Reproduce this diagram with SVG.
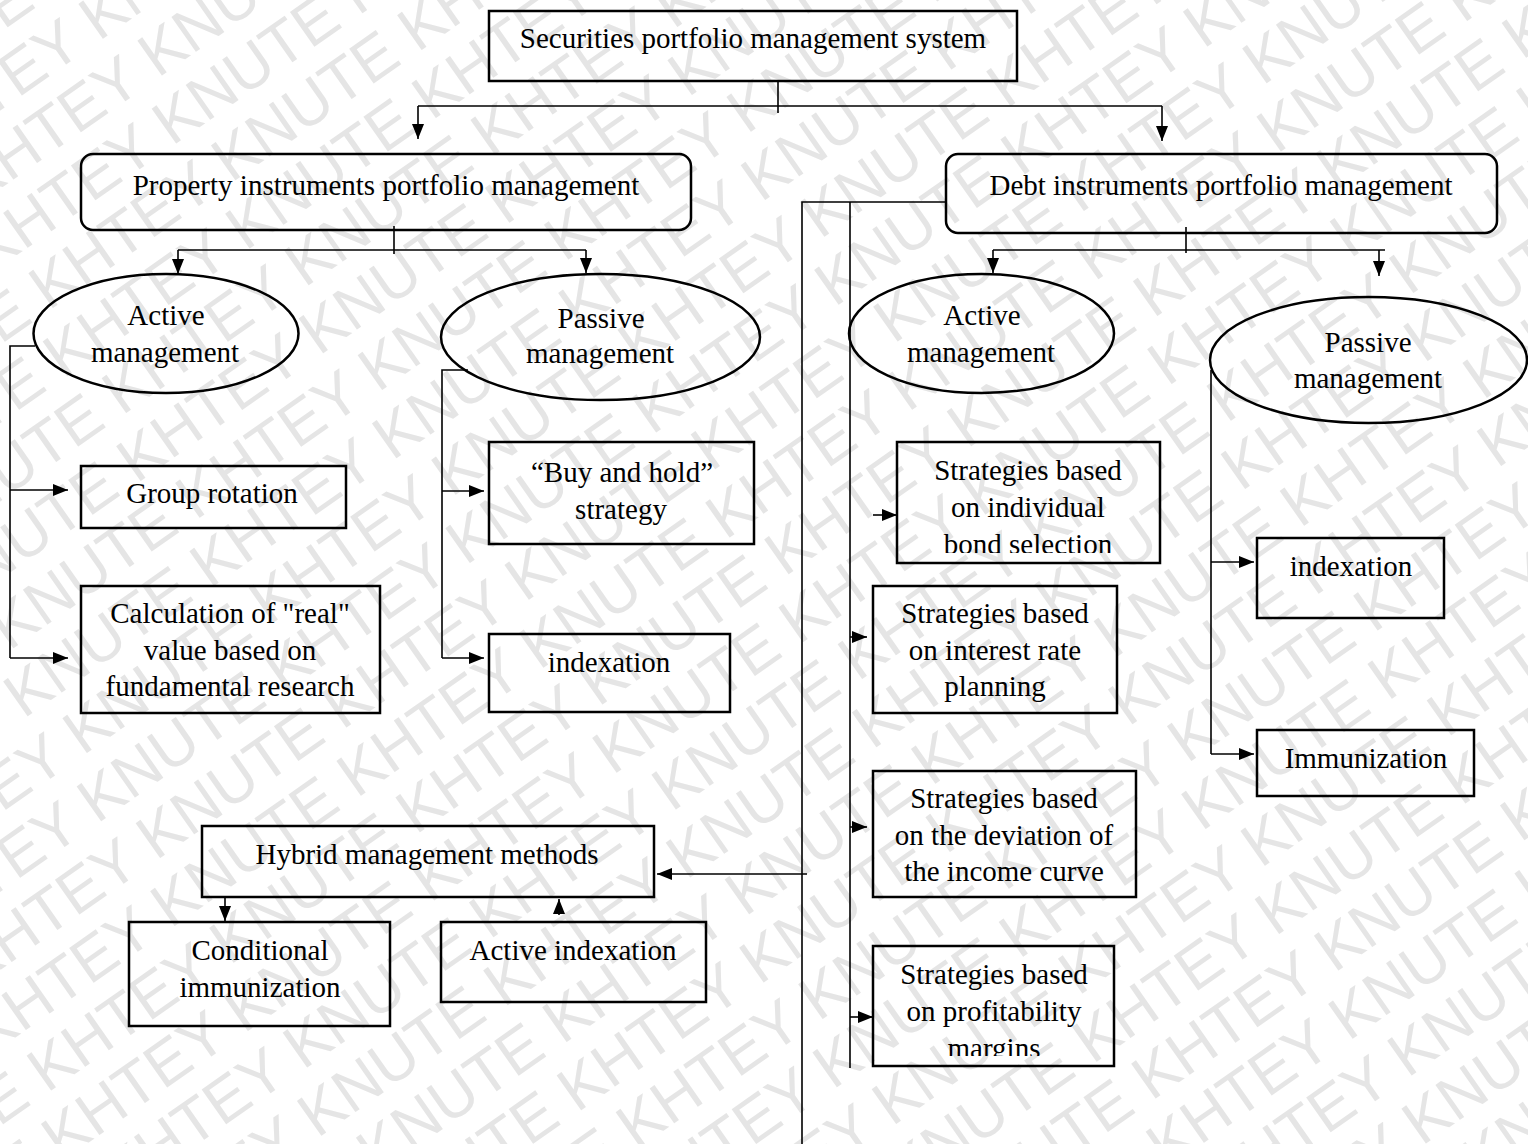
<svg xmlns="http://www.w3.org/2000/svg" width="1528" height="1144" viewBox="0 0 1528 1144">
<style>
.box{fill:none;stroke:#000;stroke-width:2.5}
.t{font-family:"Liberation Serif","Times New Roman",serif;font-size:29px;fill:#000;text-anchor:middle}
.c{fill:none;stroke:#000;stroke-width:1.6}
.wm{font-family:"Liberation Sans",Arial,sans-serif;font-size:62px;fill:#e5e5e5}
</style>
<defs>
<marker id="ah" markerUnits="userSpaceOnUse" markerWidth="15" markerHeight="12" refX="15" refY="6" orient="auto">
<path d="M0,0 L15,6 L0,12 z" fill="#000"/>
</marker>
<clipPath id="clip1"><rect x="897" y="442" width="263" height="111"/></clipPath>
<clipPath id="clip4"><rect x="873" y="946" width="241" height="110"/></clipPath>
</defs>
<rect width="1528" height="1144" fill="#fff"/>
<g id="watermark" transform="rotate(-35 764 572)">
<text class="wm" x="-600" y="-500">KHTEY KNUTE KHTEY KNUTE KHTEY KNUTE KHTEY KNUTE KHTEY KNUTE KHTEY KNUTE</text>
<text class="wm" x="-800" y="-436">KNUTE KHTEY KNUTE KHTEY KNUTE KHTEY KNUTE KHTEY KNUTE KHTEY KNUTE KHTEY</text>
<text class="wm" x="-600" y="-372">KHTEY KNUTE KHTEY KNUTE KHTEY KNUTE KHTEY KNUTE KHTEY KNUTE KHTEY KNUTE</text>
<text class="wm" x="-800" y="-308">KNUTE KHTEY KNUTE KHTEY KNUTE KHTEY KNUTE KHTEY KNUTE KHTEY KNUTE KHTEY</text>
<text class="wm" x="-600" y="-244">KHTEY KNUTE KHTEY KNUTE KHTEY KNUTE KHTEY KNUTE KHTEY KNUTE KHTEY KNUTE</text>
<text class="wm" x="-800" y="-180">KNUTE KHTEY KNUTE KHTEY KNUTE KHTEY KNUTE KHTEY KNUTE KHTEY KNUTE KHTEY</text>
<text class="wm" x="-600" y="-116">KHTEY KNUTE KHTEY KNUTE KHTEY KNUTE KHTEY KNUTE KHTEY KNUTE KHTEY KNUTE</text>
<text class="wm" x="-800" y="-52">KNUTE KHTEY KNUTE KHTEY KNUTE KHTEY KNUTE KHTEY KNUTE KHTEY KNUTE KHTEY</text>
<text class="wm" x="-600" y="12">KHTEY KNUTE KHTEY KNUTE KHTEY KNUTE KHTEY KNUTE KHTEY KNUTE KHTEY KNUTE</text>
<text class="wm" x="-800" y="76">KNUTE KHTEY KNUTE KHTEY KNUTE KHTEY KNUTE KHTEY KNUTE KHTEY KNUTE KHTEY</text>
<text class="wm" x="-600" y="140">KHTEY KNUTE KHTEY KNUTE KHTEY KNUTE KHTEY KNUTE KHTEY KNUTE KHTEY KNUTE</text>
<text class="wm" x="-800" y="204">KNUTE KHTEY KNUTE KHTEY KNUTE KHTEY KNUTE KHTEY KNUTE KHTEY KNUTE KHTEY</text>
<text class="wm" x="-600" y="268">KHTEY KNUTE KHTEY KNUTE KHTEY KNUTE KHTEY KNUTE KHTEY KNUTE KHTEY KNUTE</text>
<text class="wm" x="-800" y="332">KNUTE KHTEY KNUTE KHTEY KNUTE KHTEY KNUTE KHTEY KNUTE KHTEY KNUTE KHTEY</text>
<text class="wm" x="-600" y="396">KHTEY KNUTE KHTEY KNUTE KHTEY KNUTE KHTEY KNUTE KHTEY KNUTE KHTEY KNUTE</text>
<text class="wm" x="-800" y="460">KNUTE KHTEY KNUTE KHTEY KNUTE KHTEY KNUTE KHTEY KNUTE KHTEY KNUTE KHTEY</text>
<text class="wm" x="-600" y="524">KHTEY KNUTE KHTEY KNUTE KHTEY KNUTE KHTEY KNUTE KHTEY KNUTE KHTEY KNUTE</text>
<text class="wm" x="-800" y="588">KNUTE KHTEY KNUTE KHTEY KNUTE KHTEY KNUTE KHTEY KNUTE KHTEY KNUTE KHTEY</text>
<text class="wm" x="-600" y="652">KHTEY KNUTE KHTEY KNUTE KHTEY KNUTE KHTEY KNUTE KHTEY KNUTE KHTEY KNUTE</text>
<text class="wm" x="-800" y="716">KNUTE KHTEY KNUTE KHTEY KNUTE KHTEY KNUTE KHTEY KNUTE KHTEY KNUTE KHTEY</text>
<text class="wm" x="-600" y="780">KHTEY KNUTE KHTEY KNUTE KHTEY KNUTE KHTEY KNUTE KHTEY KNUTE KHTEY KNUTE</text>
<text class="wm" x="-800" y="844">KNUTE KHTEY KNUTE KHTEY KNUTE KHTEY KNUTE KHTEY KNUTE KHTEY KNUTE KHTEY</text>
<text class="wm" x="-600" y="908">KHTEY KNUTE KHTEY KNUTE KHTEY KNUTE KHTEY KNUTE KHTEY KNUTE KHTEY KNUTE</text>
<text class="wm" x="-800" y="972">KNUTE KHTEY KNUTE KHTEY KNUTE KHTEY KNUTE KHTEY KNUTE KHTEY KNUTE KHTEY</text>
<text class="wm" x="-600" y="1036">KHTEY KNUTE KHTEY KNUTE KHTEY KNUTE KHTEY KNUTE KHTEY KNUTE KHTEY KNUTE</text>
<text class="wm" x="-800" y="1100">KNUTE KHTEY KNUTE KHTEY KNUTE KHTEY KNUTE KHTEY KNUTE KHTEY KNUTE KHTEY</text>
<text class="wm" x="-600" y="1164">KHTEY KNUTE KHTEY KNUTE KHTEY KNUTE KHTEY KNUTE KHTEY KNUTE KHTEY KNUTE</text>
<text class="wm" x="-800" y="1228">KNUTE KHTEY KNUTE KHTEY KNUTE KHTEY KNUTE KHTEY KNUTE KHTEY KNUTE KHTEY</text>
<text class="wm" x="-600" y="1292">KHTEY KNUTE KHTEY KNUTE KHTEY KNUTE KHTEY KNUTE KHTEY KNUTE KHTEY KNUTE</text>
<text class="wm" x="-800" y="1356">KNUTE KHTEY KNUTE KHTEY KNUTE KHTEY KNUTE KHTEY KNUTE KHTEY KNUTE KHTEY</text>
<text class="wm" x="-600" y="1420">KHTEY KNUTE KHTEY KNUTE KHTEY KNUTE KHTEY KNUTE KHTEY KNUTE KHTEY KNUTE</text>
<text class="wm" x="-800" y="1484">KNUTE KHTEY KNUTE KHTEY KNUTE KHTEY KNUTE KHTEY KNUTE KHTEY KNUTE KHTEY</text>
<text class="wm" x="-600" y="1548">KHTEY KNUTE KHTEY KNUTE KHTEY KNUTE KHTEY KNUTE KHTEY KNUTE KHTEY KNUTE</text>
<text class="wm" x="-800" y="1612">KNUTE KHTEY KNUTE KHTEY KNUTE KHTEY KNUTE KHTEY KNUTE KHTEY KNUTE KHTEY</text>
</g>

<g id="connectors">
<line class="c" x1="778" y1="81" x2="778" y2="113"/>
<line class="c" x1="418" y1="106" x2="1162" y2="106"/>
<line class="c" x1="418" y1="106" x2="418" y2="139" marker-end="url(#ah)"/>
<line class="c" x1="1162" y1="106" x2="1162" y2="141" marker-end="url(#ah)"/>
<line class="c" x1="394" y1="226" x2="394" y2="254"/>
<line class="c" x1="178" y1="250" x2="586" y2="250"/>
<line class="c" x1="178" y1="250" x2="178" y2="274" marker-end="url(#ah)"/>
<line class="c" x1="586" y1="250" x2="586" y2="273" marker-end="url(#ah)"/>
<line class="c" x1="1186" y1="227" x2="1186" y2="253"/>
<line class="c" x1="993" y1="250" x2="1385" y2="250"/>
<line class="c" x1="993" y1="250" x2="993" y2="273" marker-end="url(#ah)"/>
<line class="c" x1="1379" y1="250" x2="1379" y2="276" marker-end="url(#ah)"/>
<polyline class="c" points="35,346 10,346 10,658"/>
<line class="c" x1="10" y1="490" x2="68" y2="490" marker-end="url(#ah)"/>
<line class="c" x1="10" y1="658" x2="68" y2="658" marker-end="url(#ah)"/>
<polyline class="c" points="468,370 442,370 442,658"/>
<line class="c" x1="442" y1="491" x2="484" y2="491" marker-end="url(#ah)"/>
<line class="c" x1="442" y1="658" x2="484" y2="658" marker-end="url(#ah)"/>
<polyline class="c" points="946,202 802,202 802,1144"/>
<line class="c" x1="850" y1="202" x2="850" y2="1068"/>
<line class="c" x1="873" y1="515" x2="897" y2="515" marker-end="url(#ah)"/>
<line class="c" x1="850" y1="637" x2="867" y2="637" marker-end="url(#ah)"/>
<line class="c" x1="850" y1="827" x2="867" y2="827" marker-end="url(#ah)"/>
<line class="c" x1="850" y1="1017" x2="873" y2="1017" marker-end="url(#ah)"/>
<line class="c" x1="807" y1="874" x2="657" y2="874" marker-end="url(#ah)"/>
<line class="c" x1="225" y1="898" x2="225" y2="921" marker-end="url(#ah)"/>
<line class="c" x1="559" y1="915" x2="559" y2="899" marker-end="url(#ah)"/>
<line class="c" x1="1211" y1="370" x2="1211" y2="754"/>
<line class="c" x1="1211" y1="562" x2="1254" y2="562" marker-end="url(#ah)"/>
<line class="c" x1="1211" y1="754" x2="1254" y2="754" marker-end="url(#ah)"/>
</g>

<g id="root">
<rect class="box" x="489" y="11" width="528" height="70"/>
<text class="t" x="753" y="48">Securities portfolio management system</text>
</g>
<g id="property">
<rect class="box" x="81" y="154" width="610" height="76" rx="12"/>
<text class="t" x="386" y="195">Property instruments portfolio management</text>
</g>
<g id="debt">
<rect class="box" x="946" y="154" width="551" height="79" rx="12"/>
<text class="t" x="1221" y="195">Debt instruments portfolio management</text>
</g>
<g id="prop-active">
<ellipse class="box" cx="166" cy="333.5" rx="132.5" ry="59.5"/>
<text class="t" x="166" y="325">Active</text>
<text class="t" x="165" y="362">management</text>
</g>
<g id="prop-passive">
<ellipse class="box" cx="600.5" cy="337" rx="159.5" ry="63"/>
<text class="t" x="601" y="328">Passive</text>
<text class="t" x="600" y="363">management</text>
</g>
<g id="debt-active">
<ellipse class="box" cx="981.5" cy="333.5" rx="132.5" ry="59.5"/>
<text class="t" x="982" y="325">Active</text>
<text class="t" x="981" y="362">management</text>
</g>
<g id="debt-passive">
<ellipse class="box" cx="1368.5" cy="360" rx="158.5" ry="63"/>
<text class="t" x="1368" y="352">Passive</text>
<text class="t" x="1368" y="388">management</text>
</g>
<g id="group-rotation">
<rect class="box" x="81" y="466" width="265" height="62"/>
<text class="t" x="212" y="503">Group rotation</text>
</g>
<g id="calculation">
<rect class="box" x="81" y="586" width="299" height="127"/>
<text class="t" x="230" y="623">Calculation of "real"</text>
<text class="t" x="230" y="660">value based on</text>
<text class="t" x="230" y="696">fundamental research</text>
</g>
<g id="buy-hold">
<rect class="box" x="489" y="442" width="265" height="102"/>
<text class="t" x="622" y="482">“Buy and hold”</text>
<text class="t" x="621" y="519">strategy</text>
</g>
<g id="indexation-left">
<rect class="box" x="489" y="634" width="241" height="78"/>
<text class="t" x="609" y="672">indexation</text>
</g>
<g id="bond-selection">
<rect class="box" x="897" y="442" width="263" height="121"/>
<g clip-path="url(#clip1)">
<text class="t" x="1028" y="480">Strategies based</text>
<text class="t" x="1028" y="517">on individual</text>
<text class="t" x="1028" y="554">bond selection</text>
</g>
</g>
<g id="interest-rate">
<rect class="box" x="873" y="586" width="244" height="127"/>
<text class="t" x="995" y="623">Strategies based</text>
<text class="t" x="995" y="660">on interest rate</text>
<text class="t" x="995" y="696">planning</text>
</g>
<g id="income-curve">
<rect class="box" x="873" y="771" width="263" height="126"/>
<text class="t" x="1004" y="808">Strategies based</text>
<text class="t" x="1004" y="845">on the deviation of</text>
<text class="t" x="1004" y="881">the income curve</text>
</g>
<g id="profitability">
<rect class="box" x="873" y="946" width="241" height="120"/>
<g clip-path="url(#clip4)">
<text class="t" x="994" y="984">Strategies based</text>
<text class="t" x="994" y="1021">on profitability</text>
<text class="t" x="994" y="1058">margins</text>
</g>
</g>
<g id="indexation-right">
<rect class="box" x="1257" y="538" width="187" height="80"/>
<text class="t" x="1351" y="576">indexation</text>
</g>
<g id="immunization">
<rect class="box" x="1257" y="730" width="217" height="66"/>
<text class="t" x="1366" y="768">Immunization</text>
</g>
<g id="hybrid">
<rect class="box" x="202" y="826" width="452" height="71"/>
<text class="t" x="427" y="864">Hybrid management methods</text>
</g>
<g id="conditional">
<rect class="box" x="129" y="922" width="261" height="104"/>
<text class="t" x="260" y="960">Conditional</text>
<text class="t" x="260" y="997">immunization</text>
</g>
<g id="active-indexation">
<rect class="box" x="441" y="922" width="265" height="80"/>
<text class="t" x="573" y="960">Active indexation</text>
</g>
</svg>
